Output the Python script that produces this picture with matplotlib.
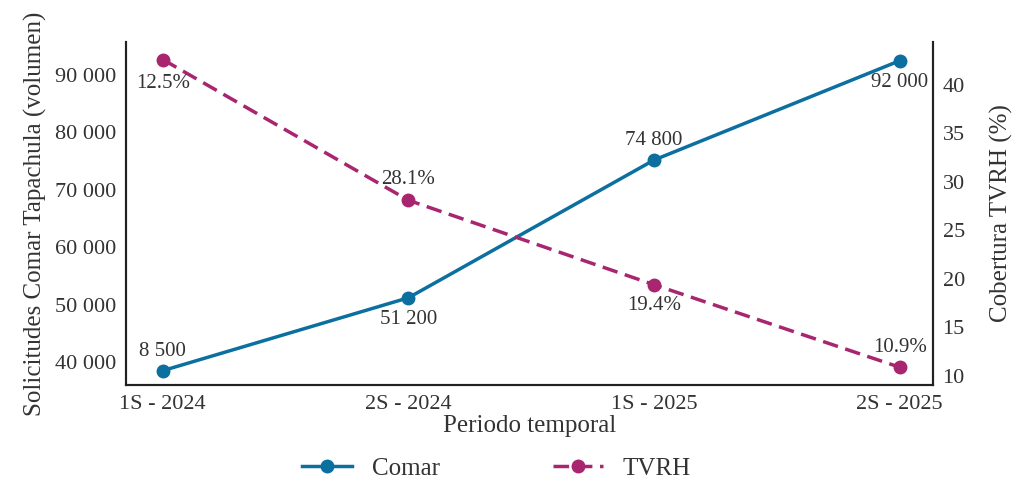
import numpy as np
import matplotlib
matplotlib.use("Agg")
import matplotlib.pyplot as plt
from matplotlib.ticker import FuncFormatter

plt.rcParams['font.family'] = ['Liberation Serif', 'DejaVu Serif']

periodos = ['1S - 2024', '2S - 2024', '1S - 2025', '2S - 2025']
comar = [38500, 51200, 75200, 92500]
comar_txt = ['8 500', '51 200', '74 800', '92 000']
tvrh = [42.6, 28.1, 19.4, 10.9]
tvrh_txt = ['12.5%', '28.1%', '19.4%', '10.9%']

c_comar = '#0b6fa0'
c_tvrh = '#a8256f'
txt_col = '#333333'

fig = plt.figure(figsize=(10.24, 4.92), dpi=100)
ax = fig.add_axes([0.123, 0.2175, 0.788, 0.697])
ax2 = ax.twinx()

x = np.arange(len(periodos))
l1, = ax.plot(x, comar, color=c_comar, lw=2.5, marker='o', markersize=9, label='Comar')
l2, = ax2.plot(x, tvrh, color=c_tvrh, lw=2.5, ls='--', dashes=(4.5, 2.2), marker='o', markersize=9, label='TVRH')

# etiquetas de datos
comar_off = [14, -16, 14, -16]
for i, (v, t) in enumerate(zip(comar, comar_txt)):
    ax.annotate(t, (x[i], v), xytext=(0, comar_off[i]), textcoords='offset points',
                ha='center', va='center', fontsize=15, color=txt_col)
tvrh_off = [-17, 15, -15, 14]
for i, (v, t) in enumerate(zip(tvrh, tvrh_txt)):
    ax2.annotate(t, (x[i], v), xytext=(0, tvrh_off[i]), textcoords='offset points',
                 ha='center', va='center', fontsize=15, color=txt_col)

ax.set_xlim(-0.15, 3.135)
ax.set_ylim(36000, 95750)
ax2.set_ylim(9.07, 44.4)
ax.set_xticks(x)
ax.set_xticklabels(periodos)
ax.set_yticks([40000, 50000, 60000, 70000, 80000, 90000])
ax.yaxis.set_major_formatter(FuncFormatter(lambda v, p: f'{int(v):,}'.replace(',', ' ')))
ax2.set_yticks([10, 15, 20, 25, 30, 35, 40])

for a in (ax, ax2):
    a.tick_params(length=0, labelsize=16, colors=txt_col, pad=7)
    a.spines['top'].set_visible(False)
    for s in ('left', 'right', 'bottom'):
        a.spines[s].set_linewidth(1.5)
        a.spines[s].set_color('#222222')

ax.set_xlabel('Periodo temporal', fontsize=18, color=txt_col, labelpad=1)
ax.set_ylabel('Solicitudes Comar Tapachula (volumen)', fontsize=18, color=txt_col, labelpad=6)
ax2.set_ylabel('Cobertura TVRH (%)', fontsize=18, color=txt_col, labelpad=18)

fig.legend([l1, l2], ['Comar', 'TVRH'], loc='center', bbox_to_anchor=(0.485, 0.047),
           ncol=2, frameon=False, fontsize=18, columnspacing=4.5, handlelength=2.0,
           labelcolor=txt_col)

fig.savefig('out.png', dpi=100)
